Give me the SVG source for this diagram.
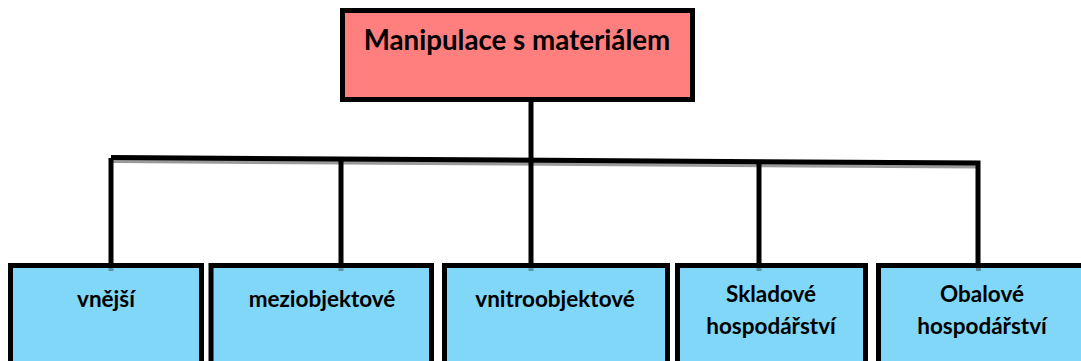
<svg xmlns="http://www.w3.org/2000/svg" width="1081" height="361" viewBox="0 0 1081 361">
  <style>
    .box { stroke: #000; stroke-width: 5; }
    .root { fill: #FF7F7F; }
    .leaf { fill: #80D7F7; }
    .lbl { font-family: Lato, "Open Sans", "Liberation Sans", sans-serif; font-weight: bold; fill: #000; text-anchor: middle; }
    .title { font-size: 27.7px; }
    .sub { font-size: 22.5px; }
    .wire { stroke: #000; stroke-width: 5; fill: none; }
    .shade { stroke: #9a9a9a; stroke-width: 5; fill: none; }
    .tick { fill: #5b93a8; }
  </style>

  <!-- connectors: trunk, shaded bus bar and drops to each child -->
  <g id="connectors">
    <path class="shade" d="M112 160.5 L978 166"/>
    <path class="wire" d="M531 100 L531 159"/>
    <path class="wire" d="M111 157.5 L978 163 L978 264"/>
    <path class="wire" d="M111 158 L111 264"/>
    <path class="wire" d="M341 159.5 L341 264"/>
    <path class="wire" d="M531 160.5 L531 264"/>
    <path class="wire" d="M759 161.5 L759 264"/>
  </g>

  <g id="root">
    <rect class="box root" x="342.5" y="10.5" width="350" height="89"/>
    <text class="lbl title" x="517" y="50">Manipulace s materiálem</text>
  </g>

  <g id="n-vnejsi">
    <rect class="box leaf" x="10.5" y="265.5" width="191" height="110"/>
    <rect class="tick" x="108.5" y="268" width="5" height="3"/>
    <text class="lbl sub" x="106" y="307">vnější</text>
  </g>

  <g id="n-meziobjektove">
    <rect class="box leaf" x="211" y="265.5" width="220.5" height="110"/>
    <rect class="tick" x="338.5" y="268" width="5" height="3"/>
    <text class="lbl sub" x="322" y="307">meziobjektové</text>
  </g>

  <g id="n-vnitroobjektove">
    <rect class="box leaf" x="444.5" y="265.5" width="223" height="110"/>
    <rect class="tick" x="528.5" y="268" width="5" height="3"/>
    <text class="lbl sub" x="555" y="307">vnitroobjektové</text>
  </g>

  <g id="n-skladove">
    <rect class="box leaf" x="677.5" y="265.5" width="188" height="110"/>
    <rect class="tick" x="756.5" y="268" width="5" height="3"/>
    <text class="lbl sub" x="771" y="302">Skladové</text>
    <text class="lbl sub" x="771" y="334">hospodářství</text>
  </g>

  <g id="n-obalove">
    <rect class="box leaf" x="878.5" y="265.5" width="210" height="110"/>
    <rect class="tick" x="976" y="268" width="5" height="3"/>
    <text class="lbl sub" x="982" y="302">Obalové</text>
    <text class="lbl sub" x="982" y="334">hospodářství</text>
  </g>
</svg>
